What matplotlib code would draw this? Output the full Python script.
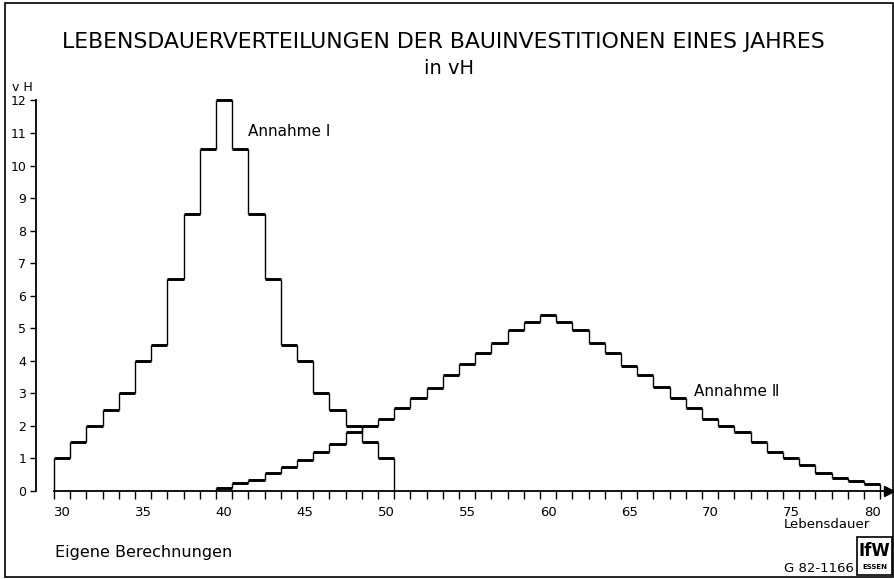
import numpy as np
import matplotlib
matplotlib.use("Agg")
import matplotlib.pyplot as plt
from matplotlib.patches import Rectangle

# Lebensdauer (Jahre) und Anteile in vH
years_1 = np.arange(30, 51)
annahme_1 = [1.0, 1.5, 2.0, 2.5, 3.0, 4.0, 4.5, 6.5, 8.5, 10.5, 12.0,
             10.5, 8.5, 6.5, 4.5, 4.0, 3.0, 2.5, 2.0, 1.5, 1.0]

years_2 = np.arange(40, 81)
annahme_2 = [0.1, 0.25, 0.35, 0.55, 0.75, 0.95, 1.2, 1.45, 1.8, 2.0, 2.2,
             2.55, 2.85, 3.15, 3.55, 3.9, 4.25, 4.55, 4.95, 5.2, 5.4,
             5.2, 4.95, 4.55, 4.25, 3.85, 3.55, 3.2, 2.85, 2.55, 2.2,
             2.0, 1.8, 1.5, 1.2, 1.0, 0.8, 0.55, 0.4, 0.3, 0.2]

x_ticks = list(range(30, 81, 5))
y_ticks = list(range(0, 13))

W, H = 895, 579


def fx(px):
    return px / W


def fy(py):
    return 1 - py / H


def draw_steps(ax, years, values):
    # thick horizontal treads, thin risers like the hand drawing
    values = np.asarray(values)
    left = years - 0.5
    right = years + 0.5
    ax.hlines(values, left, right, colors='black', lw=2.1)
    edges = np.append(left, right[-1])
    padded = np.concatenate([[0], values, [0]])
    ax.vlines(edges, padded[:-1], padded[1:], colors='black', lw=1.0)


fig = plt.figure(figsize=(W / 100, H / 100), dpi=100)
plt.rcParams['font.family'] = ['DejaVu Sans']

ax = fig.add_axes([fx(36), fy(491), fx(889) - fx(36), fy(90.7) - fy(491)])
ax.set_xlim(28.39, 81.04)
ax.set_ylim(0, 12.3)

draw_steps(ax, years_1, annahme_1)
draw_steps(ax, years_2, annahme_2)

for s in ['top', 'right']:
    ax.spines[s].set_visible(False)
ax.spines['left'].set_bounds(0, 12)
ax.spines['bottom'].set_bounds(29.5, 81.04)
ax.spines['left'].set_linewidth(1.3)
ax.spines['bottom'].set_linewidth(1.3)
ax.plot(1, 0, '>', color='black', ms=7, transform=ax.transAxes, clip_on=False)

ax.set_xticks(x_ticks)
ax.set_xticks(np.arange(29.5, 81, 1), minor=True)
ax.tick_params(axis='x', which='major', length=0, pad=11, labelsize=9.5)
ax.tick_params(axis='x', which='minor', length=6, width=1.0, direction='out')
ax.set_yticks(y_ticks)
ax.tick_params(axis='y', length=4, width=1.0, pad=3, labelsize=9)

ax.text(41.5, 11.05, 'Annahme Ⅰ', fontsize=11, va='center', ha='left')
ax.text(69.0, 3.05, 'Annahme Ⅱ', fontsize=11, va='center', ha='left')

fig.text(fx(443), fy(42), 'LEBENSDAUERVERTEILUNGEN DER BAUINVESTITIONEN EINES JAHRES',
         ha='center', va='center', fontsize=15.8)
fig.text(fx(449), fy(68), 'in vH', ha='center', va='center', fontsize=14)
fig.text(fx(12), fy(88), 'v H', ha='left', va='center', fontsize=9)
fig.text(fx(784), fy(525), 'Lebensdauer', ha='left', va='center', fontsize=9.5)
fig.text(fx(55), fy(552), 'Eigene Berechnungen', ha='left', va='center', fontsize=11.5)
fig.text(fx(784), fy(569), 'G 82-1166', ha='left', va='center', fontsize=9.5)

# IfW logo box
fig.add_artist(Rectangle((fx(857), fy(575)), fx(892) - fx(857), fy(537) - fy(575),
                         fill=False, lw=1.2, transform=fig.transFigure))
fig.text(fx(874.5), fy(551), 'IfW', ha='center', va='center', fontsize=12, weight='bold')
fig.text(fx(874.5), fy(567), 'ESSEN', ha='center', va='center', fontsize=5, weight='bold')

# outer frame
fig.add_artist(Rectangle((fx(5), fy(577)), fx(893) - fx(5), fy(3) - fy(577),
                         fill=False, lw=1.2, transform=fig.transFigure))

fig.savefig('out.png', dpi=100)
